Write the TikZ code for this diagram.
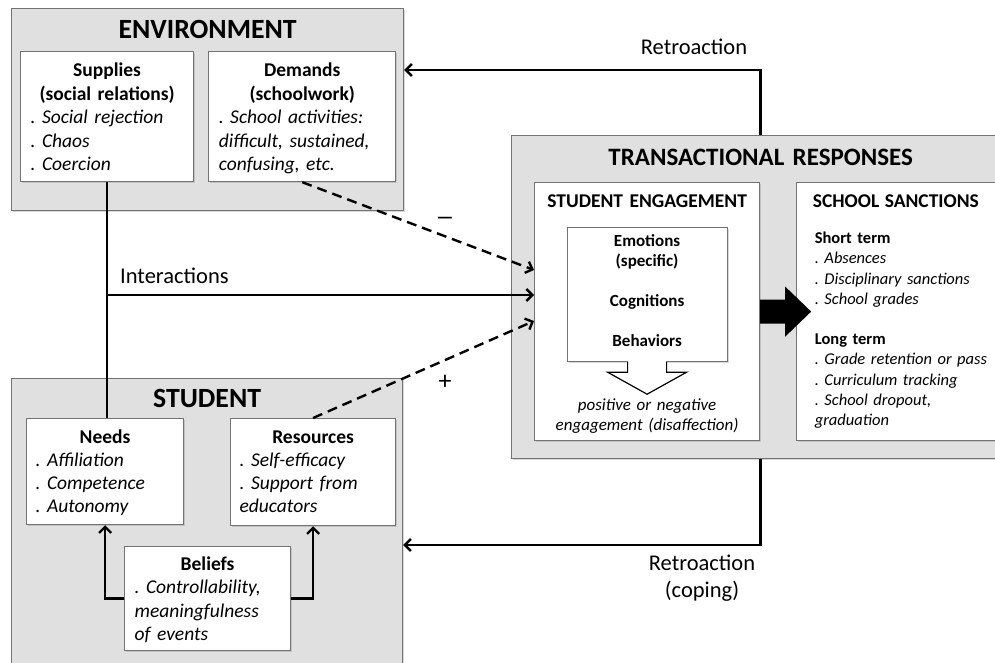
\documentclass[tikz,border=0pt]{standalone}
\usepackage{fontspec}
\setmainfont{Carlito}
\frenchspacing
\usetikzlibrary{arrows.meta,shapes,positioning,shadows}
\tikzset{
  basic/.style   = {draw=black!55, line width=1.2pt, rectangle, inner ysep=0pt,
                    drop shadow={shadow xshift=1.5pt, shadow yshift=-1.5pt, opacity=.3}},
  panel/.style   = {basic, fill=black!12, anchor=north west, inner xsep=0pt, align=center},
  card/.style    = {basic, fill=white, anchor=north west, inner xsep=10pt,
                    font=\fontsize{19.5}{23.5}\selectfont},
  arr/.style     = {line width=2.4pt, -{Straight Barb[length=6pt,width=12pt]}},
  dasharr/.style = {arr, dash pattern=on 10pt off 6pt},
  lbl/.style     = {font=\fontsize{22.5}{27}\selectfont, inner sep=0pt, align=center}
}

\begin{document}
\begin{tikzpicture}[x=1pt,y=-1pt]
\useasboundingbox (0,0) rectangle (995,663);
\clip (0,0) rectangle (995,663);

% environment
\node[panel, text width=392pt, text height=30pt, text depth=172pt,
      font=\fontsize{27.8}{30}\selectfont\bfseries] (env) at (11,8) {ENVIRONMENT};
\node[card, text width=153pt, text height=25pt, text depth=105pt] (sup) at (20,51)
  {{\centering\bfseries Supplies\\(social relations)\par}
   \itshape . Social rejection\\. Chaos\\. Coercion};
\node[card, text width=167pt, text height=25pt, text depth=105pt,
      right=14pt of sup.north east, anchor=north west] (dem)
  {{\centering\bfseries Demands\\(schoolwork)\par}
   \itshape . School activities:\\difficult, sustained,\\confusing, etc.};

% student
\node[panel, text width=391pt, text height=29pt, text depth=320pt,
      font=\fontsize{27.8}{30}\selectfont\bfseries] (stu) at (11,378) {STUDENT};
\node[card, inner xsep=9pt, text width=139pt, text height=25pt, text depth=81pt,
      font=\fontsize{19.5}{23}\selectfont] (needs) at (26,418)
  {{\centering\bfseries Needs\par}
   \itshape . Affiliation\\. Competence\\. Autonomy};
\node[card, inner xsep=9pt, text width=147pt, text height=25pt, text depth=82pt,
      font=\fontsize{19.5}{23}\selectfont] (res) at (230,418)
  {{\centering\bfseries Resources\par}
   \itshape . Self-efficacy\\. Support from\\educators};
\node[card, text width=146pt, text height=24pt, text depth=80pt,
      font=\fontsize{19.5}{23.3}\selectfont] (bel) at (124,546)
  {{\centering\bfseries Beliefs\par}
   \itshape . Controllability,\\meaningfulness\\of events};

% transactional responses
\node[panel, text width=498pt, text height=30pt, text depth=293pt,
      font=\fontsize{25}{28}\selectfont\bfseries] (tr) at (511,135) {TRANSACTIONAL RESPONSES};
\node[card, inner xsep=0pt, text width=225pt, text height=25pt, text depth=233pt, align=center,
      font=\fontsize{19.5}{22}\selectfont\bfseries] (se) at (534,182) {STUDENT ENGAGEMENT};
\node[card, inner xsep=0pt, text width=160pt, text height=19pt, text depth=115pt, align=center,
      font=\fontsize{17}{20}\selectfont\bfseries,
      below=45pt of se.north, anchor=north] (emo)
  {Emotions\\(specific)\\[20pt]Cognitions\\[20pt]Behaviors};
\node[lbl, text width=225pt, font=\fontsize{17}{20}\selectfont\itshape,
      below=48pt of emo.south, anchor=base] (eng)
  {positive or negative\\engagement (disaffection)};
\node[card, inner xsep=18pt, text width=190pt, text height=25pt, text depth=233pt,
      font=\fontsize{16.5}{20.2}\selectfont,
      right=36pt of se.north east, anchor=north west] (ss)
  {{\fontsize{19.5}{22}\selectfont\bfseries\hspace*{-2pt}SCHOOL SANCTIONS\par}\vspace{15.8pt}
   \textbf{Short term}\\\itshape . Absences\\. Disciplinary sanctions\\. School grades\\[20.2pt]
   \upshape\textbf{Long term}\\\itshape . Grade retention or pass\\. Curriculum tracking\\
   . School dropout,\\graduation};

% arrows inside the engagement box
\fill[white, shift={(emo.south)}] (-18.9,-1) rectangle (18.9,1);
\draw[line width=1.2pt, fill=white, shift={(emo.south)}]
  (-19.5,0) -- (-19.5,10) -- (-39.5,10) -- (0,32) -- (39.5,10) -- (19.5,10) -- (19.5,0);
\fill[shift={(se.east)}]
  (0,-12) -- (25,-12) -- (25,-25) -- (51,0) -- (25,25) -- (25,12) -- (0,12) -- cycle;

% connectors
\coordinate (ia) at (sup.south |- 0,295);
\draw[line width=2.4pt] (sup.south) -- (sup.south |- needs.north);
\draw[arr] (ia) -- (ia -| se.west);
\draw[dasharr] (dem.south) -- (se.west |- 0,270);
\draw[dasharr] (res.north) -- (se.west |- 0,321);
\draw[arr] (bel.west) -| (needs.south);
\draw[arr] (bel.east) -| (res.south);
\draw[arr] (tr.north) |- (env.east |- 0,70);
\draw[arr] (tr.south) |- (stu.east |- 0,545);

% labels
\node[lbl, anchor=base west] (ilbl) at (120,283) {Interactions};
\node[lbl, anchor=base] (rtop) at (694,55) {Retroaction};
\node[lbl, text width=130pt, anchor=base] (rbot) at (702,570) {Retroaction\\(coping)};
\node[lbl, font=\fontsize{19}{20}\selectfont\bfseries] (minus) at (445,220) {---};
\node[lbl, font=\fontsize{26}{28}\selectfont] (plus) at (445,382) {+};
\end{tikzpicture}
\end{document}
